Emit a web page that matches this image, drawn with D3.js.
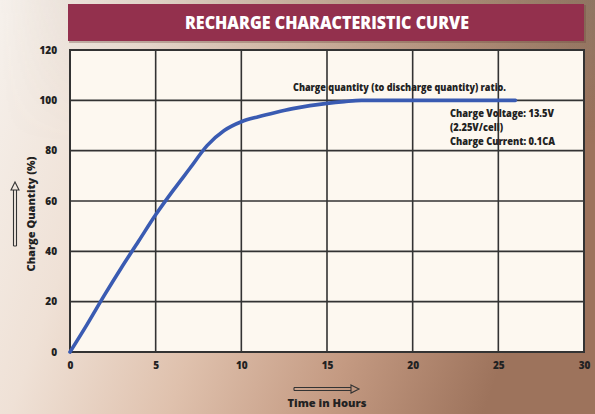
<!DOCTYPE html>
<html><head><meta charset="utf-8">
<script src="https://cdn.jsdelivr.net/npm/d3@7"></script>
<style>html,body{margin:0;padding:0;overflow:hidden}svg{display:block}</style>
</head><body>
<script>
const hours   = [0, 1, 2, 3, 4, 5, 6, 7, 8, 9, 10, 11, 12, 13, 14, 15, 16, 17, 20, 23, 26];
const charge  = [0, 11, 22.5, 33.5, 44, 54.5, 64, 73, 82, 88, 91.5, 93.5, 95.2, 96.7, 97.9, 98.8, 99.5, 100, 100, 100, 100];
const xTicks  = [0, 5, 10, 15, 20, 25, 30];
const yTicks  = [0, 20, 40, 60, 80, 100, 120];
const title   = "RECHARGE CHARACTERISTIC CURVE";
const xTitle  = "Time in Hours";
const yTitle  = "Charge Quantity (%)";
const notes   = ["Charge quantity (to discharge quantity) ratio."];
const notes2  = ["Charge Voltage: 13.5V", "(2.25V/cell)", "Charge Current: 0.1CA"];

const W = 595, H = 414;
const m = {l: 70, r: 11, t: 50, b: 62};
const svg = d3.select("body").append("svg").attr("width", W).attr("height", H);
const defs = svg.append("defs");
const g1 = defs.append("linearGradient").attr("id","bg").attr("x1","0").attr("x2","1").attr("y1","0").attr("y2","0.25");
[[0,"#f6f1ec"],[0.25,"#efe1d6"],[0.5,"#dfc1ad"],[0.75,"#c49a82"],[1,"#9d735c"]].forEach(s=>g1.append("stop").attr("offset",s[0]).attr("stop-color",s[1]));
const g2 = defs.append("linearGradient").attr("id","bgtop").attr("x1","0").attr("x2","0").attr("y1","0").attr("y2","1");
g2.append("stop").attr("offset",0).attr("stop-color","#7d7060").attr("stop-opacity",0.55);
g2.append("stop").attr("offset",0.35).attr("stop-color","#7d7060").attr("stop-opacity",0);
const g3 = defs.append("linearGradient").attr("id","bgtopmask").attr("x1","0").attr("x2","1");
g3.append("stop").attr("offset",0).attr("stop-color","#fff").attr("stop-opacity",0);
g3.append("stop").attr("offset",1).attr("stop-color","#fff").attr("stop-opacity",1);
defs.append("mask").attr("id","mk").append("rect").attr("width",W).attr("height",H).attr("fill","url(#bgtopmask)");

svg.append("rect").attr("width",W).attr("height",H).attr("fill","url(#bg)");
svg.append("rect").attr("width",W).attr("height",H).attr("fill","url(#bgtop)").attr("mask","url(#mk)");

const fnt = "'Open Sans', sans-serif";
const fw = 800;

// title bar
svg.append("rect").attr("x",69).attr("y",5).attr("width",517).attr("height",38).attr("fill","#6e4a40").attr("opacity",0.35);
svg.append("rect").attr("x",68).attr("y",4).attr("width",516).attr("height",37).attr("fill","#93304d");
svg.append("text").attr("x",327).attr("y",29).attr("text-anchor","middle")
  .attr("font-family",fnt).attr("font-weight",fw).attr("font-size",17)
  .attr("textLength",284).attr("lengthAdjust","spacingAndGlyphs")
  .attr("fill","#fff").text(title);

const x = d3.scaleLinear().domain([0,30]).range([m.l, W - m.r]);
const y = d3.scaleLinear().domain([0,120]).range([H - m.b, m.t]);

svg.append("rect").attr("x",x(0)).attr("y",y(120)).attr("width",x(30)-x(0)).attr("height",y(0)-y(120)).attr("fill","#fdf8f0");

const grid = svg.append("g").attr("stroke","#333").attr("stroke-width",1.6);
grid.selectAll("line.v").data(xTicks).join("line").attr("x1",d=>x(d)).attr("x2",d=>x(d)).attr("y1",y(0)).attr("y2",y(120));
grid.selectAll("line.h").data(yTicks).join("line").attr("y1",d=>y(d)).attr("y2",d=>y(d)).attr("x1",x(0)).attr("x2",x(30));
svg.append("rect").attr("x",x(0)).attr("y",y(120)).attr("width",x(30)-x(0)).attr("height",y(0)-y(120))
  .attr("fill","none").attr("stroke","#333").attr("stroke-width",2);

const xAxis = d3.axisBottom(x).tickValues(xTicks).tickSize(0).tickPadding(10);
const gx = svg.append("g").attr("transform",`translate(0,${y(0)})`).call(xAxis);
gx.select(".domain").remove();
gx.selectAll("text").attr("font-family",fnt).attr("font-weight",fw).attr("font-size",10).attr("fill","#222");
const yAxis = d3.axisLeft(y).tickValues(yTicks).tickSize(0).tickPadding(13);
const gy = svg.append("g").attr("transform",`translate(${x(0)},0)`).call(yAxis);
gy.select(".domain").remove();
gy.selectAll("text").attr("font-family",fnt).attr("font-weight",fw).attr("font-size",10).attr("fill","#222");

// curve
const line = d3.line().x((d,i)=>x(hours[i])).y(d=>y(d)).curve(d3.curveMonotoneX);
svg.append("path").datum(charge).attr("d",line).attr("fill","none").attr("stroke","#3a5bb2").attr("stroke-width",3.6).attr("stroke-linecap","round");

// annotations
svg.append("text").attr("x",293).attr("y",91).attr("font-family",fnt).attr("font-weight",fw).attr("font-size",10)
  .attr("textLength",213).attr("lengthAdjust","spacingAndGlyphs").attr("fill","#222").text(notes[0]);
const nl = [104, 53, 105];
notes2.forEach((t,i)=>svg.append("text").attr("x",450).attr("y",117+i*14).attr("font-family",fnt).attr("font-weight",fw).attr("font-size",10)
  .attr("textLength",nl[i]).attr("lengthAdjust","spacingAndGlyphs").attr("fill","#222").text(t));

// axis titles
svg.append("text").attr("x",327).attr("y",407).attr("text-anchor","middle").attr("font-family",fnt).attr("font-weight",fw).attr("font-size",11)
  .attr("textLength",79).attr("lengthAdjust","spacingAndGlyphs").attr("fill","#222").text(xTitle);
svg.append("text").attr("transform","translate(35,214) rotate(-90)").attr("text-anchor","middle").attr("font-family",fnt).attr("font-weight",fw).attr("font-size",11)
  .attr("textLength",115).attr("lengthAdjust","spacingAndGlyphs").attr("fill","#222").text(yTitle);

// hollow arrows
const arrowStyle = s => s.attr("fill","none").attr("stroke","#333").attr("stroke-width",1.1);
arrowStyle(svg.append("path").attr("d","M294,387.5 L351,387.5 M294,390.5 L351,390.5 M294,387.5 L294,390.5 M351,385 L359,389 L351,393 Z"));
arrowStyle(svg.append("path").attr("d","M13.5,246 L13.5,190 M16.5,246 L16.5,190 M13.5,246 L16.5,246 M11,190 L15,182 L19,190 Z"));
</script>
</body></html>
